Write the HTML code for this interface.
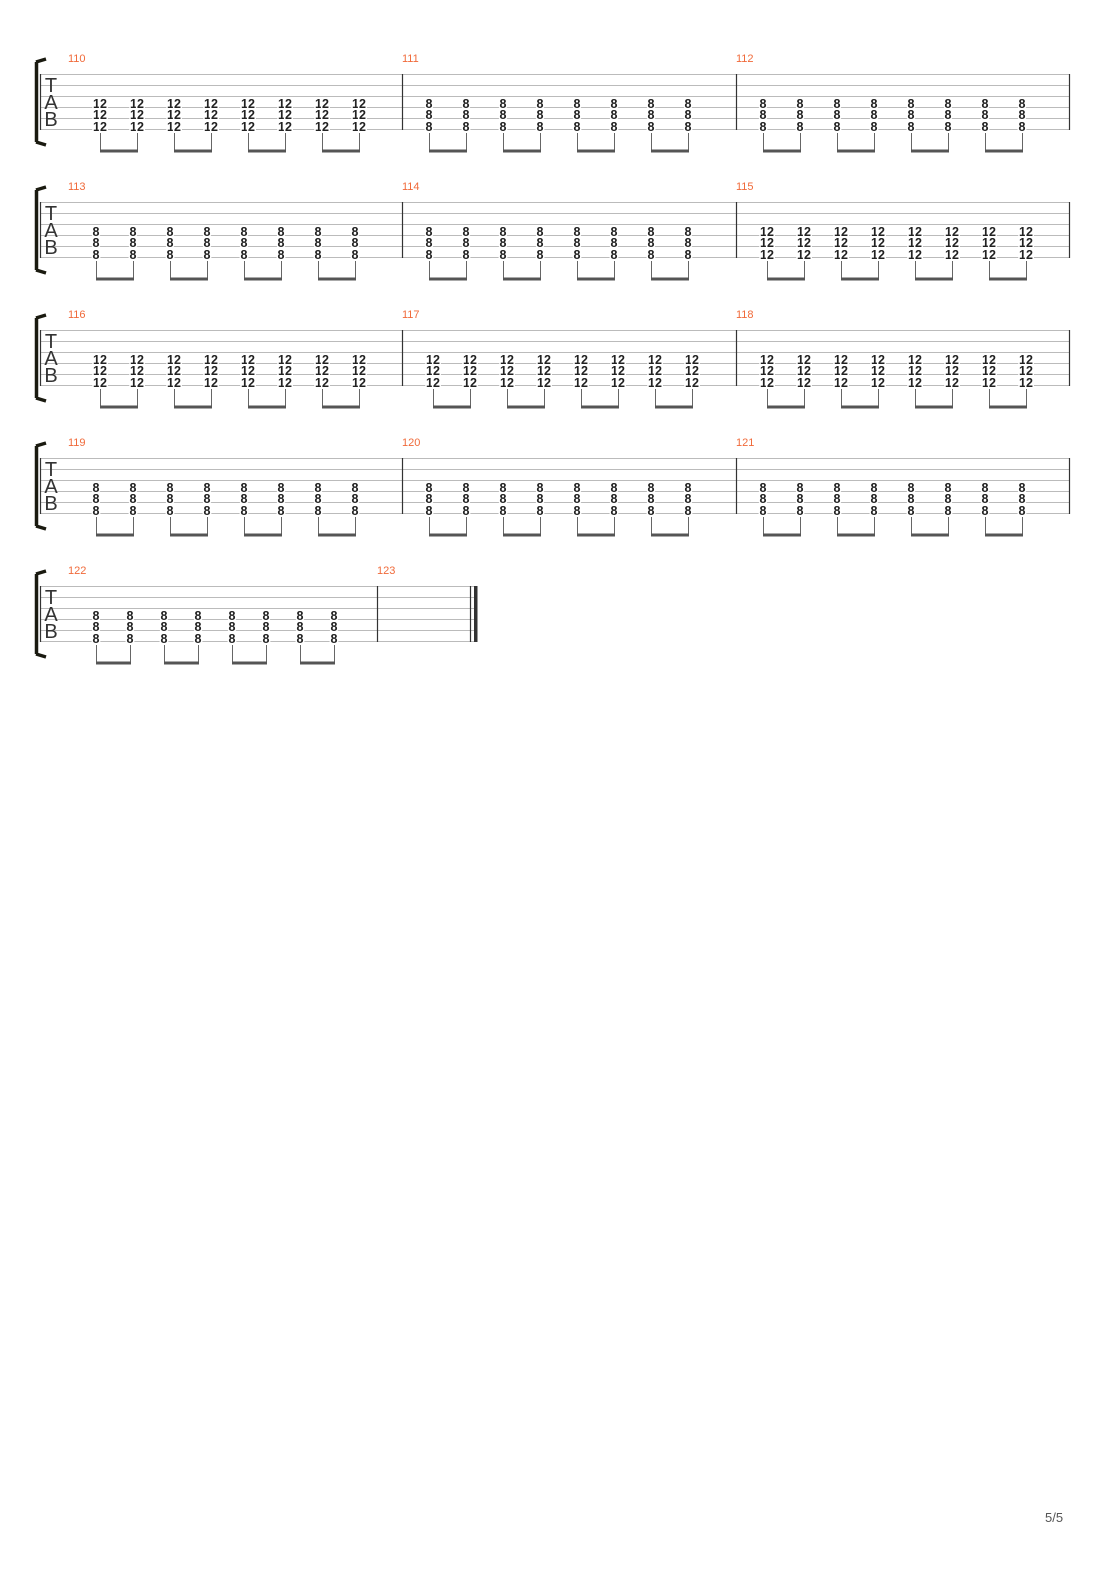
<!DOCTYPE html>
<html><head><meta charset="utf-8"><style>
body{margin:0;background:#fff}
svg{display:block}
.n{font:bold 12.5px "Liberation Sans",sans-serif;fill:#222;stroke:#fff;stroke-width:3;paint-order:stroke}
.n8{text-anchor:middle}
.mn{font:11px "Liberation Sans",sans-serif;fill:#f06a3a}
.tab{font:20px "Liberation Sans",sans-serif;fill:#333;text-anchor:middle}
.sl{stroke:#bbb;stroke-width:1}
.bl{stroke:#333;stroke-width:1.2}
.st{stroke:#666;stroke-width:1;fill:none}
.bm{stroke:#555;stroke-width:3}
</style></head><body>
<svg width="1110" height="1570" viewBox="0 0 1110 1570">
<defs>
<g id="staff">
<path class="sl" d="M40 74.5H1070M40 85.5H1070M40 96.5H1070M40 107.5H1070M40 118.5H1070M40 129.5H1070"/>
<path class="bl" d="M40.5 74V130M402.5 74V130M736.5 74V130M1069.5 74V130"/>
<path d="M36.5 62 L36.5 142 M36 62 L46 59 M36 142 L46 145" stroke="#1a1a10" stroke-width="3.5" fill="none"/>
<text class="tab" x="51" y="92">T</text><text class="tab" x="51" y="109">A</text><text class="tab" x="51" y="126">B</text>
</g>
<g id="sb">
<path class="st" d="M0.5 133V152M37.5 133V152M74.5 133V152M111.5 133V152M148.5 133V152M185.5 133V152M222.5 133V152M259.5 133V152"/>
<path class="bm" d="M0 151H38M74 151H112M148 151H186M222 151H260"/>
</g>
</defs>

<g>
<use href="#staff"/>
<use href="#sb" x="100"/><use href="#sb" x="429"/><use href="#sb" x="763"/>
<text class="mn" x="68" y="62">110</text><text class="mn" x="402" y="62">111</text><text class="mn" x="736" y="62">112</text>
<text class="n" x="93 100 130 137 167 174 204 211 241 248 278 285 315 322 352 359" y="108">1212121212121212</text>
<text class="n" x="93 100 130 137 167 174 204 211 241 248 278 285 315 322 352 359" y="119">1212121212121212</text>
<text class="n" x="93 100 130 137 167 174 204 211 241 248 278 285 315 322 352 359" y="131">1212121212121212</text>
<text class="n n8" x="429 466 503 540 577 614 651 688" y="108">88888888</text>
<text class="n n8" x="429 466 503 540 577 614 651 688" y="119">88888888</text>
<text class="n n8" x="429 466 503 540 577 614 651 688" y="131">88888888</text>
<text class="n n8" x="763 800 837 874 911 948 985 1022" y="108">88888888</text>
<text class="n n8" x="763 800 837 874 911 948 985 1022" y="119">88888888</text>
<text class="n n8" x="763 800 837 874 911 948 985 1022" y="131">88888888</text>
</g>

<g transform="translate(0,128)">
<use href="#staff"/>
<use href="#sb" x="96"/><use href="#sb" x="429"/><use href="#sb" x="767"/>
<text class="mn" x="68" y="62">113</text><text class="mn" x="402" y="62">114</text><text class="mn" x="736" y="62">115</text>
<text class="n n8" x="96 133 170 207 244 281 318 355" y="108">88888888</text>
<text class="n n8" x="96 133 170 207 244 281 318 355" y="119">88888888</text>
<text class="n n8" x="96 133 170 207 244 281 318 355" y="131">88888888</text>
<text class="n n8" x="429 466 503 540 577 614 651 688" y="108">88888888</text>
<text class="n n8" x="429 466 503 540 577 614 651 688" y="119">88888888</text>
<text class="n n8" x="429 466 503 540 577 614 651 688" y="131">88888888</text>
<text class="n" x="760 767 797 804 834 841 871 878 908 915 945 952 982 989 1019 1026" y="108">1212121212121212</text>
<text class="n" x="760 767 797 804 834 841 871 878 908 915 945 952 982 989 1019 1026" y="119">1212121212121212</text>
<text class="n" x="760 767 797 804 834 841 871 878 908 915 945 952 982 989 1019 1026" y="131">1212121212121212</text>
</g>

<g transform="translate(0,256)">
<use href="#staff"/>
<use href="#sb" x="100"/><use href="#sb" x="433"/><use href="#sb" x="767"/>
<text class="mn" x="68" y="62">116</text><text class="mn" x="402" y="62">117</text><text class="mn" x="736" y="62">118</text>
<text class="n" x="93 100 130 137 167 174 204 211 241 248 278 285 315 322 352 359" y="108">1212121212121212</text>
<text class="n" x="93 100 130 137 167 174 204 211 241 248 278 285 315 322 352 359" y="119">1212121212121212</text>
<text class="n" x="93 100 130 137 167 174 204 211 241 248 278 285 315 322 352 359" y="131">1212121212121212</text>
<text class="n" x="426 433 463 470 500 507 537 544 574 581 611 618 648 655 685 692" y="108">1212121212121212</text>
<text class="n" x="426 433 463 470 500 507 537 544 574 581 611 618 648 655 685 692" y="119">1212121212121212</text>
<text class="n" x="426 433 463 470 500 507 537 544 574 581 611 618 648 655 685 692" y="131">1212121212121212</text>
<text class="n" x="760 767 797 804 834 841 871 878 908 915 945 952 982 989 1019 1026" y="108">1212121212121212</text>
<text class="n" x="760 767 797 804 834 841 871 878 908 915 945 952 982 989 1019 1026" y="119">1212121212121212</text>
<text class="n" x="760 767 797 804 834 841 871 878 908 915 945 952 982 989 1019 1026" y="131">1212121212121212</text>
</g>

<g transform="translate(0,384)">
<use href="#staff"/>
<use href="#sb" x="96"/><use href="#sb" x="429"/><use href="#sb" x="763"/>
<text class="mn" x="68" y="62">119</text><text class="mn" x="402" y="62">120</text><text class="mn" x="736" y="62">121</text>
<text class="n n8" x="96 133 170 207 244 281 318 355" y="108">88888888</text>
<text class="n n8" x="96 133 170 207 244 281 318 355" y="119">88888888</text>
<text class="n n8" x="96 133 170 207 244 281 318 355" y="131">88888888</text>
<text class="n n8" x="429 466 503 540 577 614 651 688" y="108">88888888</text>
<text class="n n8" x="429 466 503 540 577 614 651 688" y="119">88888888</text>
<text class="n n8" x="429 466 503 540 577 614 651 688" y="131">88888888</text>
<text class="n n8" x="763 800 837 874 911 948 985 1022" y="108">88888888</text>
<text class="n n8" x="763 800 837 874 911 948 985 1022" y="119">88888888</text>
<text class="n n8" x="763 800 837 874 911 948 985 1022" y="131">88888888</text>
</g>

<g transform="translate(0,512)">
<path class="sl" d="M40 74.5H477M40 85.5H477M40 96.5H477M40 107.5H477M40 118.5H477M40 129.5H477"/>
<path class="bl" d="M40.5 74V130M377.5 74V130M470.5 74V130"/>
<rect x="474" y="74" width="3.5" height="56" fill="#333"/>
<path d="M36.5 62 L36.5 142 M36 62 L46 59 M36 142 L46 145" stroke="#1a1a10" stroke-width="3.5" fill="none"/>
<text class="tab" x="51" y="92">T</text><text class="tab" x="51" y="109">A</text><text class="tab" x="51" y="126">B</text>
<text class="mn" x="68" y="62">122</text><text class="mn" x="377" y="62">123</text>
<text class="n n8" x="96 130 164 198 232 266 300 334" y="108">88888888</text>
<text class="n n8" x="96 130 164 198 232 266 300 334" y="119">88888888</text>
<text class="n n8" x="96 130 164 198 232 266 300 334" y="131">88888888</text>
<path class="st" d="M96.5 133V152M130.5 133V152M164.5 133V152M198.5 133V152M232.5 133V152M266.5 133V152M300.5 133V152M334.5 133V152"/>
<path class="bm" d="M96 151H131M164 151H199M232 151H267M300 151H335"/>
</g>

<text x="1045" y="1522" style="font:13px 'Liberation Sans',sans-serif;fill:#555">5/5</text>
</svg>
</body></html>
